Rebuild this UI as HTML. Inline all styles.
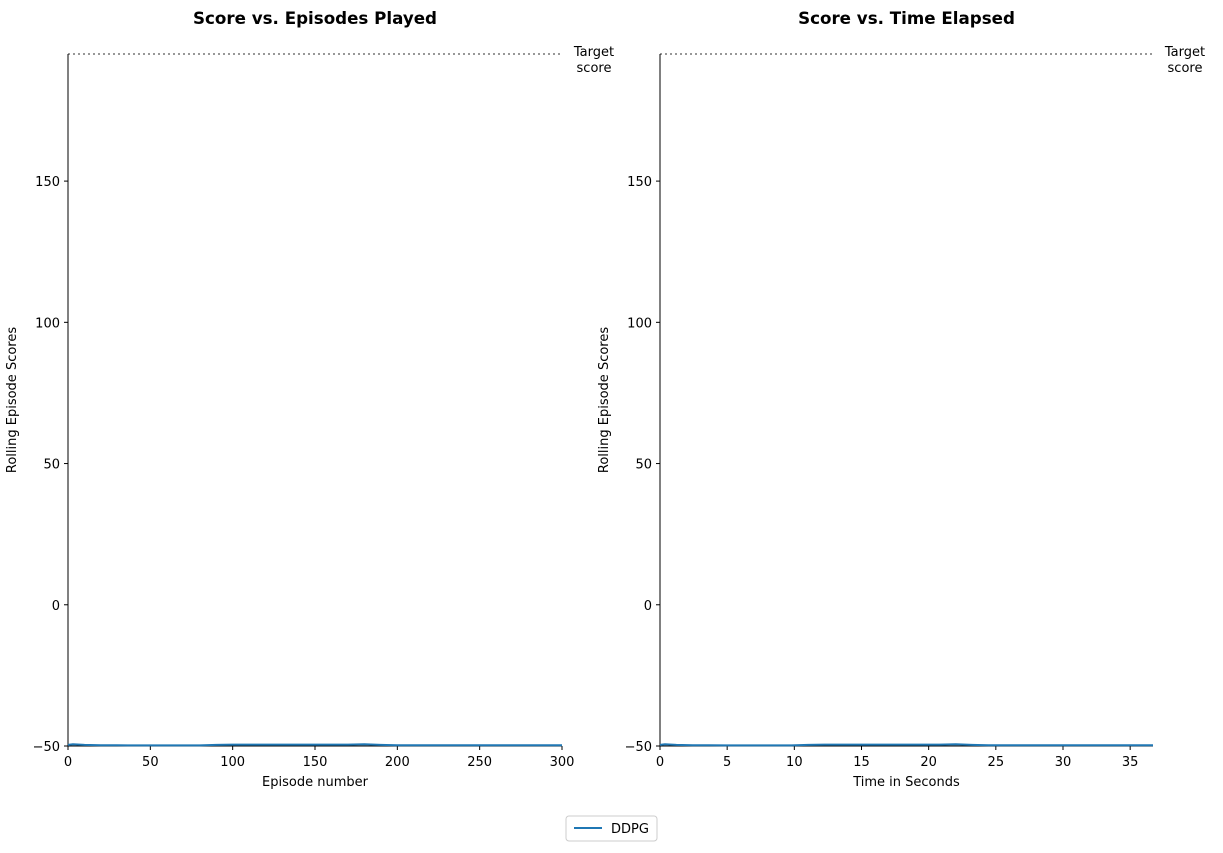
<!DOCTYPE html>
<html><head><meta charset="utf-8"><style>
body{margin:0;background:#fff;font-family:"Liberation Sans","DejaVu Sans",sans-serif}
svg text{font-family:"DejaVu Sans","Liberation Sans",sans-serif}
</style></head><body>
<svg id="c" width="1223" height="848" xmlns="http://www.w3.org/2000/svg"></svg>
<script>
const episodes=[0,3,10,20,30,40,50,60,70,80,90,100,110,120,130,140,150,160,170,180,190,200,210,220,230,240,250,260,270,280,290,300];
const scores=[-49.6,-49.4,-49.6,-49.7,-49.7,-49.8,-49.8,-49.8,-49.8,-49.8,-49.6,-49.5,-49.5,-49.5,-49.5,-49.5,-49.5,-49.5,-49.5,-49.4,-49.6,-49.7,-49.7,-49.7,-49.7,-49.7,-49.7,-49.7,-49.7,-49.7,-49.7,-49.7];
const xTicksLeft=[0,50,100,150,200,250,300];
const xTicksRight=[0,5,10,15,20,25,30,35];
const yTicks=[-50,0,50,100,150];
const targetScore=195;
const totalSeconds=36.7;
const svg=document.getElementById('c');const NS='http://www.w3.org/2000/svg';
function el(t,a,txt){const e=document.createElementNS(NS,t);for(const k in a)e.setAttribute(k,a[k]);if(txt!==undefined)e.textContent=txt;svg.appendChild(e);return e;}
const yMin=-50,yMax=targetScore,plotTop=54,plotBot=746;
const ys=v=>plotBot-(v-yMin)/(yMax-yMin)*(plotBot-plotTop);
function panel(x0,x1,xmax,xticks,xs_vals,title,xlabel,pfx){
 const xs=v=>x0+v/xmax*(x1-x0);
 let t=el('text',{x:(x0+x1)/2,y:24,'text-anchor':'middle','font-size':16.7,'font-weight':'bold'},title);
 
 
 let l=el('line',{x1:x0,y1:ys(targetScore),x2:x1,y2:ys(targetScore),stroke:'#777','stroke-width':1.5,'stroke-dasharray':'2,3'});
 
 
 t=el('text',{x:x1+32,y:56,'text-anchor':'middle','font-size':13},'Target');
 
 
 t=el('text',{x:x1+32,y:72,'text-anchor':'middle','font-size':13},'score');
 
 
 let a=el('line',{x1:x0,y1:plotTop,x2:x0,y2:plotBot,stroke:'#000','stroke-width':1});
 
 
 a=el('line',{x1:x0,y1:plotBot,x2:x1,y2:plotBot,stroke:'#000','stroke-width':1});
 
 
 yTicks.forEach(v=>{const y=ys(v);el('line',{x1:x0-4,y1:y,x2:x0,y2:y,stroke:'#000'});
  const tt=el('text',{x:x0-8,y:y+5,'text-anchor':'end','font-size':13},v<0?'\u2212'+(-v):v);
  
  });
 xticks.forEach(v=>{const x=xs(v);el('line',{x1:x,y1:plotBot,x2:x,y2:plotBot+4,stroke:'#000'});
  const tt=el('text',{x:x,y:766,'text-anchor':'middle','font-size':13},v);
  
  });
 t=el('text',{x:(x0+x1)/2,y:786,'text-anchor':'middle','font-size':13},xlabel);
 
 
 t=el('text',{x:0,y:0,'text-anchor':'middle','font-size':13,transform:`translate(${x0-52},400) rotate(-90)`},'Rolling Episode Scores');
 
 
 const d=xs_vals.map((v,i)=>(i?'L':'M')+xs(v).toFixed(1)+','+ys(scores[i]).toFixed(1)).join(' ');
 const p=el('path',{d:d,fill:'none',stroke:'#1f77b4','stroke-width':2});
 
 
}
panel(68,562,300,xTicksLeft,episodes,'Score vs. Episodes Played','Episode number','left');
const times=episodes.map(e=>e/300*totalSeconds);
panel(660,1153,totalSeconds,xTicksRight,times,'Score vs. Time Elapsed','Time in Seconds','right');
const lg=el('rect',{x:566,y:816,width:91,height:25,rx:3,fill:'#fff',stroke:'#ccc'});


el('line',{x1:574,y1:828,x2:602,y2:828,stroke:'#1f77b4','stroke-width':2});
const lt=el('text',{x:611,y:833,'font-size':13},'DDPG');


</script>
</body></html>
